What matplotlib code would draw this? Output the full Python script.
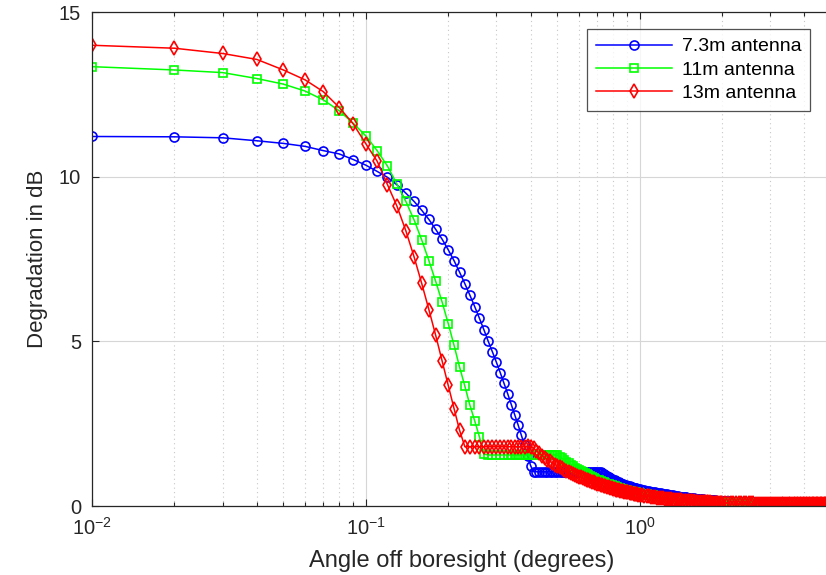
import matplotlib
matplotlib.use('Agg')
import matplotlib.pyplot as plt
from matplotlib.ticker import LogLocator, NullFormatter, FixedLocator
import numpy as np

plt.rcParams['font.family'] = ['Liberation Sans', 'DejaVu Sans']
plt.rcParams['mathtext.fontset'] = 'custom'
plt.rcParams['mathtext.rm'] = 'Liberation Sans'
plt.rcParams['mathtext.it'] = 'Liberation Sans:italic'

# angle grid: 0.01 deg steps to 1, 0.02 steps to 2, 0.05 steps to 5
angle = np.concatenate([np.arange(1, 101) * 0.01,
                        np.arange(51, 101) * 0.02,
                        np.arange(41, 101) * 0.05])

# 7.3m antenna, 0.01 .. 1.00
deg_73 = [11.22, 11.21, 11.18, 11.09, 11.01, 10.92, 10.79, 10.69, 10.52, 10.35,
          10.16, 9.98, 9.75, 9.5, 9.25, 8.98, 8.7, 8.4, 8.1, 7.78,
          7.45, 7.1, 6.75, 6.4, 6.05, 5.7, 5.35, 5.0, 4.68, 4.36,
          4.04, 3.72, 3.4, 3.08, 2.77, 2.46, 2.15, 1.84, 1.53, 1.22,
          1.04] + [1.04] * 30 + [
          1.02, 0.99, 0.96, 0.93, 0.9, 0.87, 0.84, 0.82, 0.8, 0.78,
          0.76, 0.74, 0.72, 0.7, 0.68, 0.67, 0.65, 0.64, 0.62, 0.61,
          0.6, 0.58, 0.57, 0.56, 0.55, 0.54, 0.53, 0.52, 0.51]
# 1.02 .. 2.00
deg_73 += [0.5, 0.48, 0.47, 0.46, 0.44, 0.43, 0.42, 0.4, 0.39, 0.38,
           0.37, 0.36, 0.35, 0.34, 0.33, 0.32, 0.31, 0.3, 0.29, 0.28,
           0.28, 0.27, 0.26, 0.26, 0.25, 0.24, 0.24, 0.23, 0.23, 0.22,
           0.22, 0.21, 0.21, 0.2, 0.2, 0.19, 0.19, 0.19, 0.18, 0.18,
           0.18, 0.17, 0.17, 0.17, 0.16, 0.16, 0.16, 0.15, 0.15, 0.15]
# 2.05 .. 5.00
deg_73 += [0.15, 0.14, 0.14, 0.13, 0.13, 0.13, 0.12, 0.12, 0.12, 0.11,
           0.11, 0.11, 0.11, 0.1, 0.1, 0.1, 0.1, 0.1, 0.09, 0.09]
deg_73 += [0.09] * 8 + [0.08] * 12 + [0.08] * 6 + [0.07] * 14

# 11m antenna
deg_11 = [13.34, 13.24, 13.16, 12.98, 12.81, 12.6, 12.33, 12.0, 11.62, 11.24,
          10.79, 10.32, 9.77, 9.25, 8.69, 8.08, 7.45, 6.82, 6.19, 5.54,
          4.88, 4.22, 3.64, 3.06, 2.58, 2.1, 1.58] + [1.55] * 23 + [
          1.5, 1.45, 1.4, 1.35, 1.3, 1.25, 1.2, 1.16, 1.12, 1.08,
          1.05, 1.02, 0.99, 0.96, 0.93, 0.9, 0.87, 0.85, 0.82, 0.8,
          0.78, 0.76, 0.74, 0.72, 0.7, 0.68, 0.66, 0.64, 0.63, 0.61,
          0.6, 0.58, 0.57, 0.55, 0.54, 0.53, 0.52, 0.5, 0.49, 0.48,
          0.47, 0.46, 0.45, 0.44, 0.43, 0.42, 0.41, 0.4, 0.39, 0.38]
deg_11 += [0.37, 0.36, 0.35, 0.34, 0.33, 0.32, 0.31, 0.3, 0.29, 0.28,
           0.27, 0.27, 0.26, 0.25, 0.25, 0.24, 0.23, 0.23, 0.22, 0.22,
           0.21, 0.21, 0.2, 0.2, 0.19, 0.19, 0.18, 0.18, 0.18, 0.17,
           0.17, 0.16, 0.16, 0.16, 0.15, 0.15, 0.15, 0.14, 0.14, 0.14,
           0.14, 0.13, 0.13, 0.13, 0.13, 0.12, 0.12, 0.12, 0.12, 0.11]
deg_11 += [0.11, 0.11, 0.1, 0.1, 0.1, 0.1, 0.09, 0.09, 0.09, 0.09,
           0.09, 0.08, 0.08, 0.08, 0.08, 0.08, 0.08, 0.07, 0.07, 0.07]
deg_11 += [0.07] * 10 + [0.06] * 10 + [0.06] * 10 + [0.05] * 10

# 13m antenna
deg_13 = [13.99, 13.9, 13.74, 13.56, 13.24, 12.94, 12.58, 12.1, 11.6, 11.0,
          10.47, 9.76, 9.1, 8.36, 7.57, 6.76, 5.96, 5.18, 4.4, 3.67,
          2.96, 2.3, 1.8] + [1.8] * 15 + [
          1.82, 1.8, 1.75, 1.68, 1.6, 1.53, 1.47, 1.41, 1.36, 1.31,
          1.26, 1.22, 1.18, 1.14, 1.1, 1.07, 1.04, 1.01, 0.98, 0.95,
          0.92, 0.89, 0.87, 0.84, 0.82, 0.8, 0.78, 0.76, 0.74, 0.72,
          0.7, 0.68, 0.66, 0.64, 0.63, 0.61, 0.6, 0.58, 0.57, 0.55,
          0.54, 0.53, 0.51, 0.5, 0.49, 0.48, 0.47, 0.46, 0.45, 0.44,
          0.43, 0.42, 0.41, 0.4, 0.39, 0.38, 0.37, 0.36, 0.35, 0.35,
          0.34, 0.33]
deg_13 += [0.32, 0.31, 0.3, 0.29, 0.28, 0.27, 0.26, 0.25, 0.24, 0.23,
           0.23, 0.22, 0.21, 0.21, 0.2, 0.19, 0.19, 0.18, 0.18, 0.17,
           0.17, 0.16, 0.16, 0.15, 0.15, 0.15, 0.14, 0.14, 0.14, 0.13,
           0.13, 0.13, 0.12, 0.12, 0.12, 0.12, 0.11, 0.11, 0.11, 0.11,
           0.1, 0.1, 0.1, 0.1, 0.1, 0.09, 0.09, 0.09, 0.09, 0.09]
deg_13 += [0.09] * 4 + [0.08] * 8 + [0.07] * 8
deg_13 += [0.07] * 6 + [0.06] * 14
deg_13 += [0.05] * 20

fig = plt.figure(figsize=(8.26, 5.75), dpi=100)
ax = fig.add_axes([92 / 826, 69 / 575, 739 / 826, 494 / 575])

ax.plot(angle, deg_73, color=(0, 0, 1), marker='o', ms=6.5, mfc='none', mew=1.2,
        lw=1.1, label='7.3m antenna')
ax.plot(angle, deg_11, color=(0, 1, 0), marker='s', ms=5.5, mfc='none', mew=1.2,
        lw=1.1, label='11m antenna')
ax.plot(angle, deg_13, color=(1, 0, 0), marker='d', ms=7.2, mfc='none', mew=1.2,
        lw=1.1, label='13m antenna')

ax.set_xscale('log')
ax.set_xlim(0.01, 5)
ax.set_ylim(0, 15)
ax.yaxis.set_major_locator(FixedLocator([0, 5, 10, 15]))
ax.xaxis.set_major_locator(LogLocator(base=10))
ax.xaxis.set_minor_locator(LogLocator(base=10, subs=np.arange(2, 10)))
ax.xaxis.set_minor_formatter(NullFormatter())

ax.grid(True, which='major', color='#d6d6d6', linestyle='-', linewidth=0.8)
ax.grid(True, which='minor', axis='x', color='#c8c8c8', linestyle=(0, (1, 3)), linewidth=0.8)
ax.set_axisbelow(True)

ax.tick_params(which='both', direction='in', top=True, right=False,
               labelsize=14.5, colors='#262626', width=0.8)
ax.tick_params(which='major', length=5, pad=8)
ax.tick_params(which='minor', length=3)
for s in ['left', 'bottom', 'top']:
    ax.spines[s].set_color('#262626')
    ax.spines[s].set_linewidth(0.9)
ax.spines['right'].set_visible(False)

ax.set_xlabel('Angle off boresight (degrees)', fontsize=17, color='#262626', labelpad=8)
ax.set_ylabel('Degradation in dB', fontsize=16, color='#262626', labelpad=8)

leg = ax.legend(loc='upper right', bbox_to_anchor=(810 / 826, 546 / 575),
                bbox_transform=fig.transFigure, borderaxespad=0, fontsize=14,
                frameon=True, fancybox=False, edgecolor='#262626',
                handlelength=3.9, borderpad=0.45, labelspacing=0.3,
                handletextpad=0.5)
leg.get_frame().set_linewidth(0.9)

fig.savefig('out.png', dpi=100)
